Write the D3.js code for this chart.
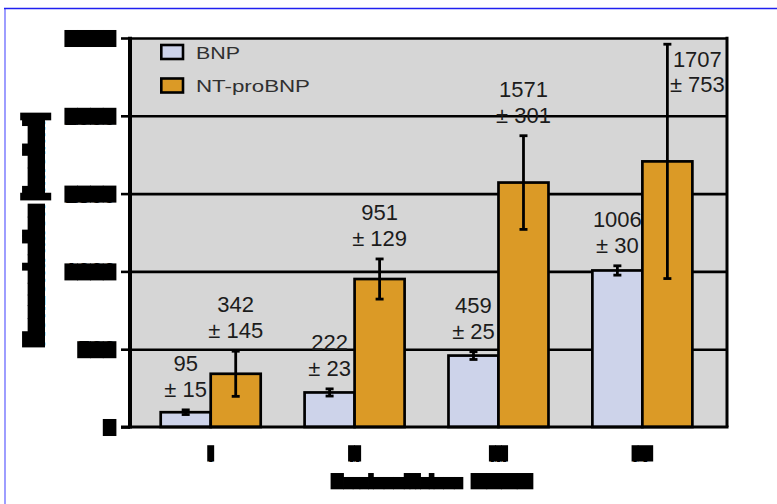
<!DOCTYPE html>
<html>
<head>
<meta charset="utf-8">
<script src="https://cdn.jsdelivr.net/npm/d3@7"></script>
<style>
  body { margin: 0; background: #fff; }
  svg { display: block; }
</style>
</head>
<body>
<svg id="chart" width="777" height="504"></svg>
<script>
// NYHA classes and the two peptides (mean ± SD, pg/ml)
const categories = ["I", "II", "III", "IV"];
const seriesNames = ["BNP", "NT-proBNP"];
const bnpMean = [95, 222, 459, 1006];
const bnpSd = [15, 23, 25, 30];
const ntMean = [342, 951, 1571, 1707];
const ntSd = [145, 129, 301, 753];
const yTicks = [0, 500, 1000, 1500, 2000, 2500];
const xTitleWords = ["Herzinsuffizienz", "NYHA"];
const yTitleWords = ["Konzentration", "(fmol/ml)"];
const seriesColors = ["#cdd3ea", "#db9a26"];

const W = 777, H = 504;
const M = { left: 130, right: 727, top: 38, bottom: 427 };
const svg = d3.select("#chart");

// Heights of the solid block drawn behind each character of the masked labels
function glyphBox(ch, fs) {
  if (ch === " ") return null;
  if ("()[]".includes(ch)) return [-0.8 * fs, 0.2 * fs];
  if (/[A-Z0-9\/]/.test(ch) || "bdfhiklt".includes(ch)) return [-0.74 * fs, 0];
  return [-0.56 * fs, 0];
}

// Masks a label with black blocks laid over its own character positions
function redact(sel) {
  sel.each(function () {
    const t = this;
    const fs = parseFloat(t.getAttribute("data-box-size")) || parseFloat(getComputedStyle(t).fontSize);
    const str = t.textContent;
    const holder = d3.select(t.parentNode).insert("g", () => t);
    if (t.getAttribute("transform")) holder.attr("transform", t.getAttribute("transform"));
    for (let i = 0; i < str.length; i++) {
      const box = glyphBox(str[i], fs);
      if (!box) continue;
      const a = t.getStartPositionOfChar(i), b = t.getEndPositionOfChar(i);
      const x = Math.min(a.x, b.x), w = Math.abs(b.x - a.x);
      holder.append("rect")
        .attr("x", x - 0.4).attr("y", a.y + box[0])
        .attr("width", w + 0.8).attr("height", box[1] - box[0])
        .attr("fill", "#000");
    }
  });
}

// Page frame (top and left rules)
svg.append("line").attr("x1", 5).attr("x2", 5).attr("y1", 8).attr("y2", H)
  .attr("stroke", "#7474ff").attr("stroke-width", 1.4);
svg.append("line").attr("x1", 4).attr("x2", W).attr("y1", 8.5).attr("y2", 8.5)
  .attr("stroke", "#2020f0").attr("stroke-width", 1.3);

const y = d3.scaleLinear().domain([0, 2500]).range([M.bottom, M.top]);
const x0 = d3.scaleBand().domain(categories).range([M.left, M.right])
  .paddingInner(0.305).paddingOuter(0.227).align(0.47);
const x1 = d3.scaleBand().domain(seriesNames).range([0, x0.bandwidth()]);

const rows = categories.map((c, i) => ({
  cat: c,
  values: [
    { s: seriesNames[0], mean: bnpMean[i], sd: bnpSd[i] },
    { s: seriesNames[1], mean: ntMean[i], sd: ntSd[i] }
  ]
}));

// Plot background
svg.append("rect")
  .attr("x", M.left).attr("y", M.top)
  .attr("width", M.right - M.left).attr("height", M.bottom - M.top)
  .attr("fill", "#d6d6d6");

// Horizontal grid lines
const grid = svg.append("g").attr("transform", `translate(${M.left},0)`)
  .call(d3.axisLeft(y).tickValues(yTicks.slice(1)).tickSize(-(M.right - M.left)).tickFormat(""));
grid.select(".domain").remove();
grid.selectAll(".tick line").attr("stroke", "#000").attr("stroke-width", 2.6);

// Bars
const groups = svg.append("g").selectAll("g.grp").data(rows).join("g")
  .attr("class", "grp")
  .attr("transform", d => `translate(${x0(d.cat)},0)`);

groups.selectAll("rect.bar").data(d => d.values).join("rect")
  .attr("class", "bar")
  .attr("x", d => x1(d.s))
  .attr("y", d => y(d.mean))
  .attr("width", x1.bandwidth())
  .attr("height", d => y(0) - y(d.mean))
  .attr("fill", (d, i) => seriesColors[i])
  .attr("stroke", "#000").attr("stroke-width", 2.7);

// Error bars
const capW = 8;
const err = groups.selectAll("g.err").data(d => d.values).join("g").attr("class", "err")
  .attr("stroke", "#000").attr("stroke-width", 2.8);
err.append("line")
  .attr("x1", d => x1(d.s) + x1.bandwidth() / 2).attr("x2", d => x1(d.s) + x1.bandwidth() / 2)
  .attr("y1", d => y(d.mean - d.sd)).attr("y2", d => y(d.mean + d.sd));
err.append("line")
  .attr("x1", d => x1(d.s) + x1.bandwidth() / 2 - capW / 2).attr("x2", d => x1(d.s) + x1.bandwidth() / 2 + capW / 2)
  .attr("y1", d => y(d.mean + d.sd)).attr("y2", d => y(d.mean + d.sd));
err.append("line")
  .attr("x1", d => x1(d.s) + x1.bandwidth() / 2 - capW / 2).attr("x2", d => x1(d.s) + x1.bandwidth() / 2 + capW / 2)
  .attr("y1", d => y(d.mean - d.sd)).attr("y2", d => y(d.mean - d.sd));

// Value labels (mean on the first line, ± SD on the second)
const labelFont = "'Liberation Sans', Arial, sans-serif";
const lineGap = 26, aboveErr = 13;
groups.each(function (row) {
  const g = d3.select(this);
  row.values.forEach(v => {
    const cx = x1(v.s) + x1.bandwidth() / 2;
    const top = y(v.mean + v.sd);
    let lx = cx, b2 = top - aboveErr, gap = lineGap;
    if (b2 - lineGap - 16 < M.top) {
      // no room above: set beside the whisker, near the top of the frame
      lx = cx + x1.bandwidth() * 0.6;
      b2 = M.top + 54;
      gap = 25;
    }
    const t = g.append("text")
      .attr("text-anchor", "middle")
      .attr("font-family", labelFont).attr("font-size", 22)
      .attr("fill", "#1c1c1c");
    t.append("tspan").attr("x", lx).attr("y", b2 - gap).text(v.mean);
    t.append("tspan").attr("x", lx).attr("y", b2).text("± " + v.sd);
  });
});

// Frame: left axis, bottom axis, right edge
svg.append("line").attr("x1", M.left).attr("x2", M.left).attr("y1", M.top - 1.3).attr("y2", M.bottom + 1.5)
  .attr("stroke", "#000").attr("stroke-width", 4);
svg.append("line").attr("x1", M.left - 9).attr("x2", M.right + 1.5).attr("y1", M.bottom).attr("y2", M.bottom)
  .attr("stroke", "#000").attr("stroke-width", 3);
svg.append("line").attr("x1", M.right).attr("x2", M.right).attr("y1", M.top - 1.3).attr("y2", M.bottom)
  .attr("stroke", "#000").attr("stroke-width", 3);

// Y axis ticks and labels
const yAxis = svg.append("g").attr("transform", `translate(${M.left},0)`)
  .call(d3.axisLeft(y).tickValues(yTicks).tickSize(9).tickPadding(5).tickFormat(d3.format("d")));
yAxis.select(".domain").remove();
yAxis.selectAll(".tick line").attr("stroke", "#000").attr("stroke-width", 2.6);
yAxis.selectAll(".tick text")
  .attr("font-family", labelFont).attr("font-weight", "bold").attr("font-size", 23)
  .attr("dy", "0.37em").attr("fill", "#000");
redact(yAxis.selectAll(".tick text"));

// X axis labels
const xAxis = svg.append("g").attr("transform", `translate(0,${M.bottom})`)
  .call(d3.axisBottom(x0).tickSize(0).tickPadding(0));
xAxis.select(".domain").remove();
xAxis.selectAll(".tick text")
  .attr("font-family", labelFont).attr("font-weight", "bold").attr("font-size", 22)
  .attr("y", 34.5).attr("dy", 0).attr("fill", "#000");
redact(xAxis.selectAll(".tick text"));

// Axis titles: each word sized to its measured width, masked at the nominal size
function titleWords(g, words, lengths, gap, fs) {
  let pos = 0;
  words.forEach((w, i) => {
    const t = g.append("text")
      .attr("x", pos).attr("y", 0)
      .attr("font-family", labelFont).attr("font-weight", "bold").attr("font-size", fs)
      .attr("data-box-size", fs)
      .attr("fill", "#000").text(w);
    const natural = t.node().getComputedTextLength();
    t.attr("font-size", fs * lengths[i] / natural);
    pos += lengths[i] + gap;
  });
  redact(g.selectAll("text"));
}
const xLens = [132, 62], xGap = 8;
const xTotal = xLens[0] + xLens[1] + xGap;
const xTitle = svg.append("g")
  .attr("transform", `translate(${(M.left + M.right) / 2 + 3.5 - xTotal / 2},489.3)`);
titleWords(xTitle, xTitleWords, xLens, xGap, 22);

const yLens = [143, 87], yGap = 4;
const yTotal = yLens[0] + yLens[1] + yGap;
const yTitle = svg.append("g")
  .attr("transform", `translate(45,${(M.top + M.bottom) / 2 - 2.5 + yTotal / 2}) rotate(-90)`);
titleWords(yTitle, yTitleWords, yLens, yGap, 31);

// Legend
const legend = svg.append("g");
const legendRows = [52, 85.5];
const legendLens = [44, 114];
seriesNames.forEach((name, i) => {
  legend.append("rect")
    .attr("x", 161.3).attr("y", legendRows[i] - 7).attr("width", 21.7).attr("height", 14)
    .attr("fill", seriesColors[i]).attr("stroke", "#000").attr("stroke-width", 2.6);
  legend.append("text")
    .attr("x", 196).attr("y", legendRows[i] + 6.5)
    .attr("font-family", labelFont).attr("font-size", 16.5)
    .attr("textLength", legendLens[i]).attr("lengthAdjust", "spacingAndGlyphs")
    .attr("fill", "#303030").text(name);
});
</script>
</body>
</html>
